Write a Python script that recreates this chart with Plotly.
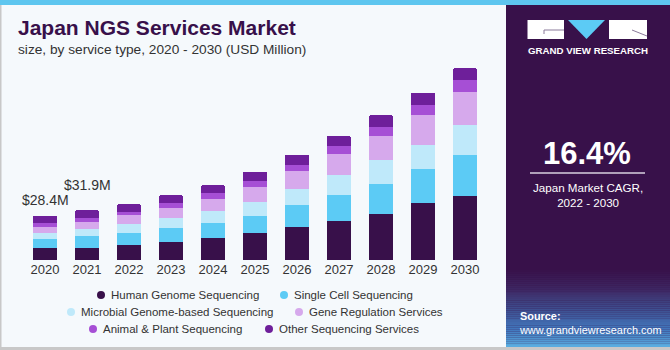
import plotly.graph_objects as go

W, H = 670, 350

years = ["2020", "2021", "2022", "2023", "2024", "2025", "2026", "2027", "2028", "2029", "2030"]
human = [7.9, 7.9, 9.6, 11.7, 13.9, 17.3, 20.9, 24.8, 29.6, 36.3, 41.0]
single_cell = [5.8, 7.5, 7.9, 9.0, 10.0, 11.1, 14.1, 17.1, 19.0, 22.0, 26.2]
microbial = [3.8, 4.2, 5.3, 6.0, 7.5, 9.0, 10.4, 12.6, 15.6, 15.4, 19.4]
gene_reg = [3.4, 4.9, 6.0, 6.8, 7.5, 9.6, 11.5, 13.2, 15.4, 19.2, 21.1]
animal_plant = [3.0, 2.1, 2.1, 2.8, 3.8, 3.8, 3.8, 5.1, 5.8, 6.2, 7.2]
other = [4.5, 5.3, 4.9, 5.1, 5.3, 5.6, 6.8, 6.6, 7.2, 8.1, 7.9]

series_names = [
    "Human Genome Sequencing",
    "Single Cell Sequencing",
    "Microbial Genome-based Sequencing",
    "Gene Regulation Services",
    "Animal & Plant Sequencing",
    "Other Sequencing Services",
]
series_values = [human, single_cell, microbial, gene_reg, animal_plant, other]
series_colors = ["#38104a", "#5ccbf5", "#bfe9fa", "#d6a9ec", "#a64fd5", "#6e1f9a"]

labeled_years = ["2020", "2021"]
labeled_texts = ["$28.4M", "$31.9M"]
label_shift = [6, 15]

cagr_text = "16.4%"

def px(x):
    return x / W

def py(y):
    return 1 - y / H

xpos = list(range(len(years)))

fig = go.Figure()
for name, vals, col in zip(series_names, series_values, series_colors):
    fig.add_trace(go.Bar(x=xpos, y=vals, name=name, width=0.57,
                         marker=dict(color=col, line=dict(width=0)),
                         showlegend=False, hoverinfo="skip"))

totals = [sum(v) for v in zip(*series_values)]

shapes = []
annotations = []

# background decorations
shapes.append(dict(type="rect", xref="paper", yref="paper", x0=0, x1=1, y0=py(5), y1=1,
                   fillcolor="#5ec6ef", line=dict(width=0), layer="below"))
shapes.append(dict(type="rect", xref="paper", yref="paper", x0=0, x1=px(1.5), y0=0, y1=py(5),
                   fillcolor="#c8c8c8", line=dict(width=0), layer="below"))
shapes.append(dict(type="rect", xref="paper", yref="paper", x0=0, x1=1, y0=0, y1=py(347),
                   fillcolor="#c8c8c8", line=dict(width=0), layer="below"))

# right panel
shapes.append(dict(type="rect", xref="paper", yref="paper", x0=px(506), x1=1, y0=py(347), y1=py(5),
                   fillcolor="#38114a", line=dict(width=0), layer="below"))
def lerp(c1, c2, t):
    return tuple(int(round(a + (b - a) * t)) for a, b in zip(c1, c2))
stops = [(270, (56, 17, 74)), (290, (62, 40, 100)), (310, (62, 80, 145)), (330, (66, 120, 190)), (347, (90, 175, 225))]
n = 40
for i in range(n):
    y0 = 270 + (347 - 270) * i / n
    y1 = 270 + (347 - 270) * (i + 1) / n
    yc = (y0 + y1) / 2
    for (a, ca), (b, cb) in zip(stops[:-1], stops[1:]):
        if a <= yc <= b:
            c = lerp(ca, cb, (yc - a) / (b - a))
            break
    shapes.append(dict(type="rect", xref="paper", yref="paper", x0=px(506), x1=1, y0=py(y1), y1=py(y0),
                       fillcolor="rgb(%d,%d,%d)" % c, line=dict(width=0), layer="below"))

# logo
shapes.append(dict(type="rect", xref="paper", yref="paper", x0=px(527.5), x1=px(564), y0=py(39), y1=py(20),
                   fillcolor="white", line=dict(width=0)))
shapes.append(dict(type="line", xref="paper", yref="paper", x0=px(544), x1=px(564), y0=py(30), y1=py(30),
                   line=dict(color="#8a7a9a", width=1)))
shapes.append(dict(type="line", xref="paper", yref="paper", x0=px(544), x1=px(544), y0=py(30), y1=py(34),
                   line=dict(color="#8a7a9a", width=1)))
shapes.append(dict(type="path", xref="paper", yref="paper",
                   path="M %f,%f L %f,%f L %f,%f Z" % (px(568), py(20), px(605), py(20), px(586.5), py(39)),
                   fillcolor="#5ccbf5", line=dict(width=0)))
shapes.append(dict(type="rect", xref="paper", yref="paper", x0=px(609), x1=px(647), y0=py(39), y1=py(20),
                   fillcolor="white", line=dict(width=0)))
shapes.append(dict(type="line", xref="paper", yref="paper", x0=px(632), x1=px(647), y0=py(30), y1=py(36),
                   line=dict(color="#8a7a9a", width=1)))
annotations.append(dict(text="GRAND VIEW RESEARCH", xref="paper", yref="paper", x=px(587.5), y=py(51),
                        xanchor="center", yanchor="middle", showarrow=False,
                        font=dict(family="Liberation Sans", size=9.7, color="white", weight="bold")))

# CAGR
annotations.append(dict(text="<b>%s</b>" % cagr_text, xref="paper", yref="paper", x=px(587), y=py(154),
                        xanchor="center", yanchor="middle", showarrow=False,
                        font=dict(family="Liberation Sans", size=31, color="white")))
shapes.append(dict(type="line", xref="paper", yref="paper", x0=px(530), x1=px(645), y0=py(173), y1=py(173),
                   line=dict(color="#d8d0e0", width=1.5)))
annotations.append(dict(text="Japan Market CAGR,<br>2022 - 2030", xref="paper", yref="paper", x=px(587.5), y=py(195),
                        xanchor="center", yanchor="middle", showarrow=False, align="center",
                        font=dict(family="Liberation Sans", size=11.6, color="white")))
annotations.append(dict(text="<b>Source:</b><br>www.grandviewresearch.com", xref="paper", yref="paper",
                        x=px(517), y=py(323), xanchor="left", yanchor="middle", showarrow=False, align="left",
                        font=dict(family="Liberation Sans", size=10.9, color="white")))

# title
annotations.append(dict(text="<b>Japan NGS Services Market</b>", xref="paper", yref="paper", x=px(16), y=py(28),
                        xanchor="left", yanchor="middle", showarrow=False,
                        font=dict(family="Liberation Sans", size=21, color="#38104a")))
annotations.append(dict(text="size, by service type, 2020 - 2030 (USD Million)", xref="paper", yref="paper",
                        x=px(16), y=py(49), xanchor="left", yanchor="middle", showarrow=False,
                        font=dict(family="Liberation Sans", size=13.7, color="#333333")))

# value labels
for yr, txt, sh in zip(labeled_years, labeled_texts, label_shift):
    i = years.index(yr)
    annotations.append(dict(text=txt, x=xpos[i], y=totals[i], xref="x", yref="y",
                            xanchor="center", yanchor="bottom", yshift=sh, showarrow=False,
                            font=dict(family="Liberation Sans", size=14, color="#333333")))

# legend (manual, centered rows)
legend_pos = [(101, 295), (284, 295), (71, 312), (299, 312), (93, 329), (269, 329)]
for name, col, (mx, my) in zip(series_names, series_colors, legend_pos):
    r = 4
    shapes.append(dict(type="circle", xref="paper", yref="paper", x0=px(mx - r), x1=px(mx + r),
                       y0=py(my + r), y1=py(my - r), fillcolor=col, line=dict(width=0)))
    annotations.append(dict(text=name, xref="paper", yref="paper", x=px(mx + 8), y=py(my),
                            xanchor="left", yanchor="middle", showarrow=False,
                            font=dict(family="Liberation Sans", size=11.5, color="#333333")))

fig.update_layout(
    width=W, height=H,
    margin=dict(l=0, r=0, t=0, b=0, autoexpand=False),
    paper_bgcolor="#f5f9fc",
    plot_bgcolor="rgba(0,0,0,0)",
    barmode="stack",
    barcornerradius=2,
    showlegend=False,
    shapes=shapes,
    annotations=annotations,
    xaxis=dict(domain=[px(24), px(486)], range=[-0.5, len(years) - 0.5], autorange=False,
               tickmode="array", tickvals=xpos, ticktext=years,
               showgrid=False, zeroline=False, showline=False, ticks="", automargin=False,
               tickfont=dict(family="Liberation Sans", size=13, color="#333333"), fixedrange=True),
    yaxis=dict(domain=[py(260), py(60)], range=[0, 128], autorange=False, visible=False,
               fixedrange=True, automargin=False),
)

fig.write_html("out.html")
